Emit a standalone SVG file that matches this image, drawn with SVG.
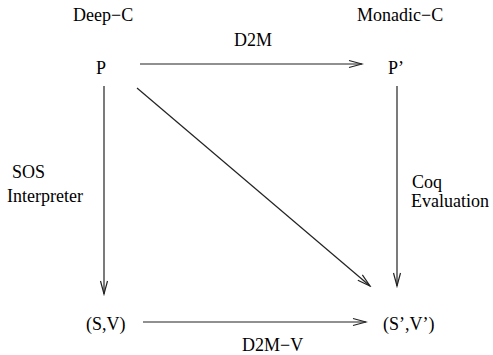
<svg xmlns="http://www.w3.org/2000/svg" width="493" height="355" viewBox="0 0 493 355">
<style>
text{font-family:"Liberation Serif","Times New Roman",serif;font-size:18px;fill:#000}
.c line{stroke:#222;stroke-width:1.2;fill:none}
</style>
<defs>
<marker id="a" markerUnits="userSpaceOnUse" viewBox="-14 -5 16 10" refX="0" refY="0" markerWidth="16" markerHeight="10" orient="auto">
<path d="M-13,-3.5 L0,0 L-13,3.5" fill="none" stroke="#222" stroke-width="1.2"/>
</marker>
</defs>
<rect width="493" height="355" fill="#fff"/>
<text x="73" y="21">Deep−C</text>
<text x="357" y="21">Monadic−C</text>
<g id="P"><text x="96" y="74">P</text></g>
<g id="Pp"><text x="388" y="74">P’</text></g>
<g id="SV"><text x="86" y="330">(S,V)</text></g>
<g id="SVp"><text x="383" y="330">(S’,V’)</text></g>
<g class="c" id="connectors">
<line x1="140" y1="64" x2="362" y2="64" marker-end="url(#a)"/>
<line x1="104" y1="86" x2="104" y2="294" marker-end="url(#a)"/>
<line x1="397" y1="86" x2="397" y2="286" marker-end="url(#a)"/>
<line x1="137" y1="88" x2="370" y2="286" marker-end="url(#a)"/>
<line x1="143" y1="322" x2="366" y2="322" marker-end="url(#a)"/>
<text x="234" y="46">D2M</text>
<text x="12" y="178">SOS</text>
<text x="7" y="202">Interpreter</text>
<text x="412" y="188">Coq</text>
<text x="411" y="207">Evaluation</text>
<text x="242" y="351">D2M−V</text>
</g>
</svg>
